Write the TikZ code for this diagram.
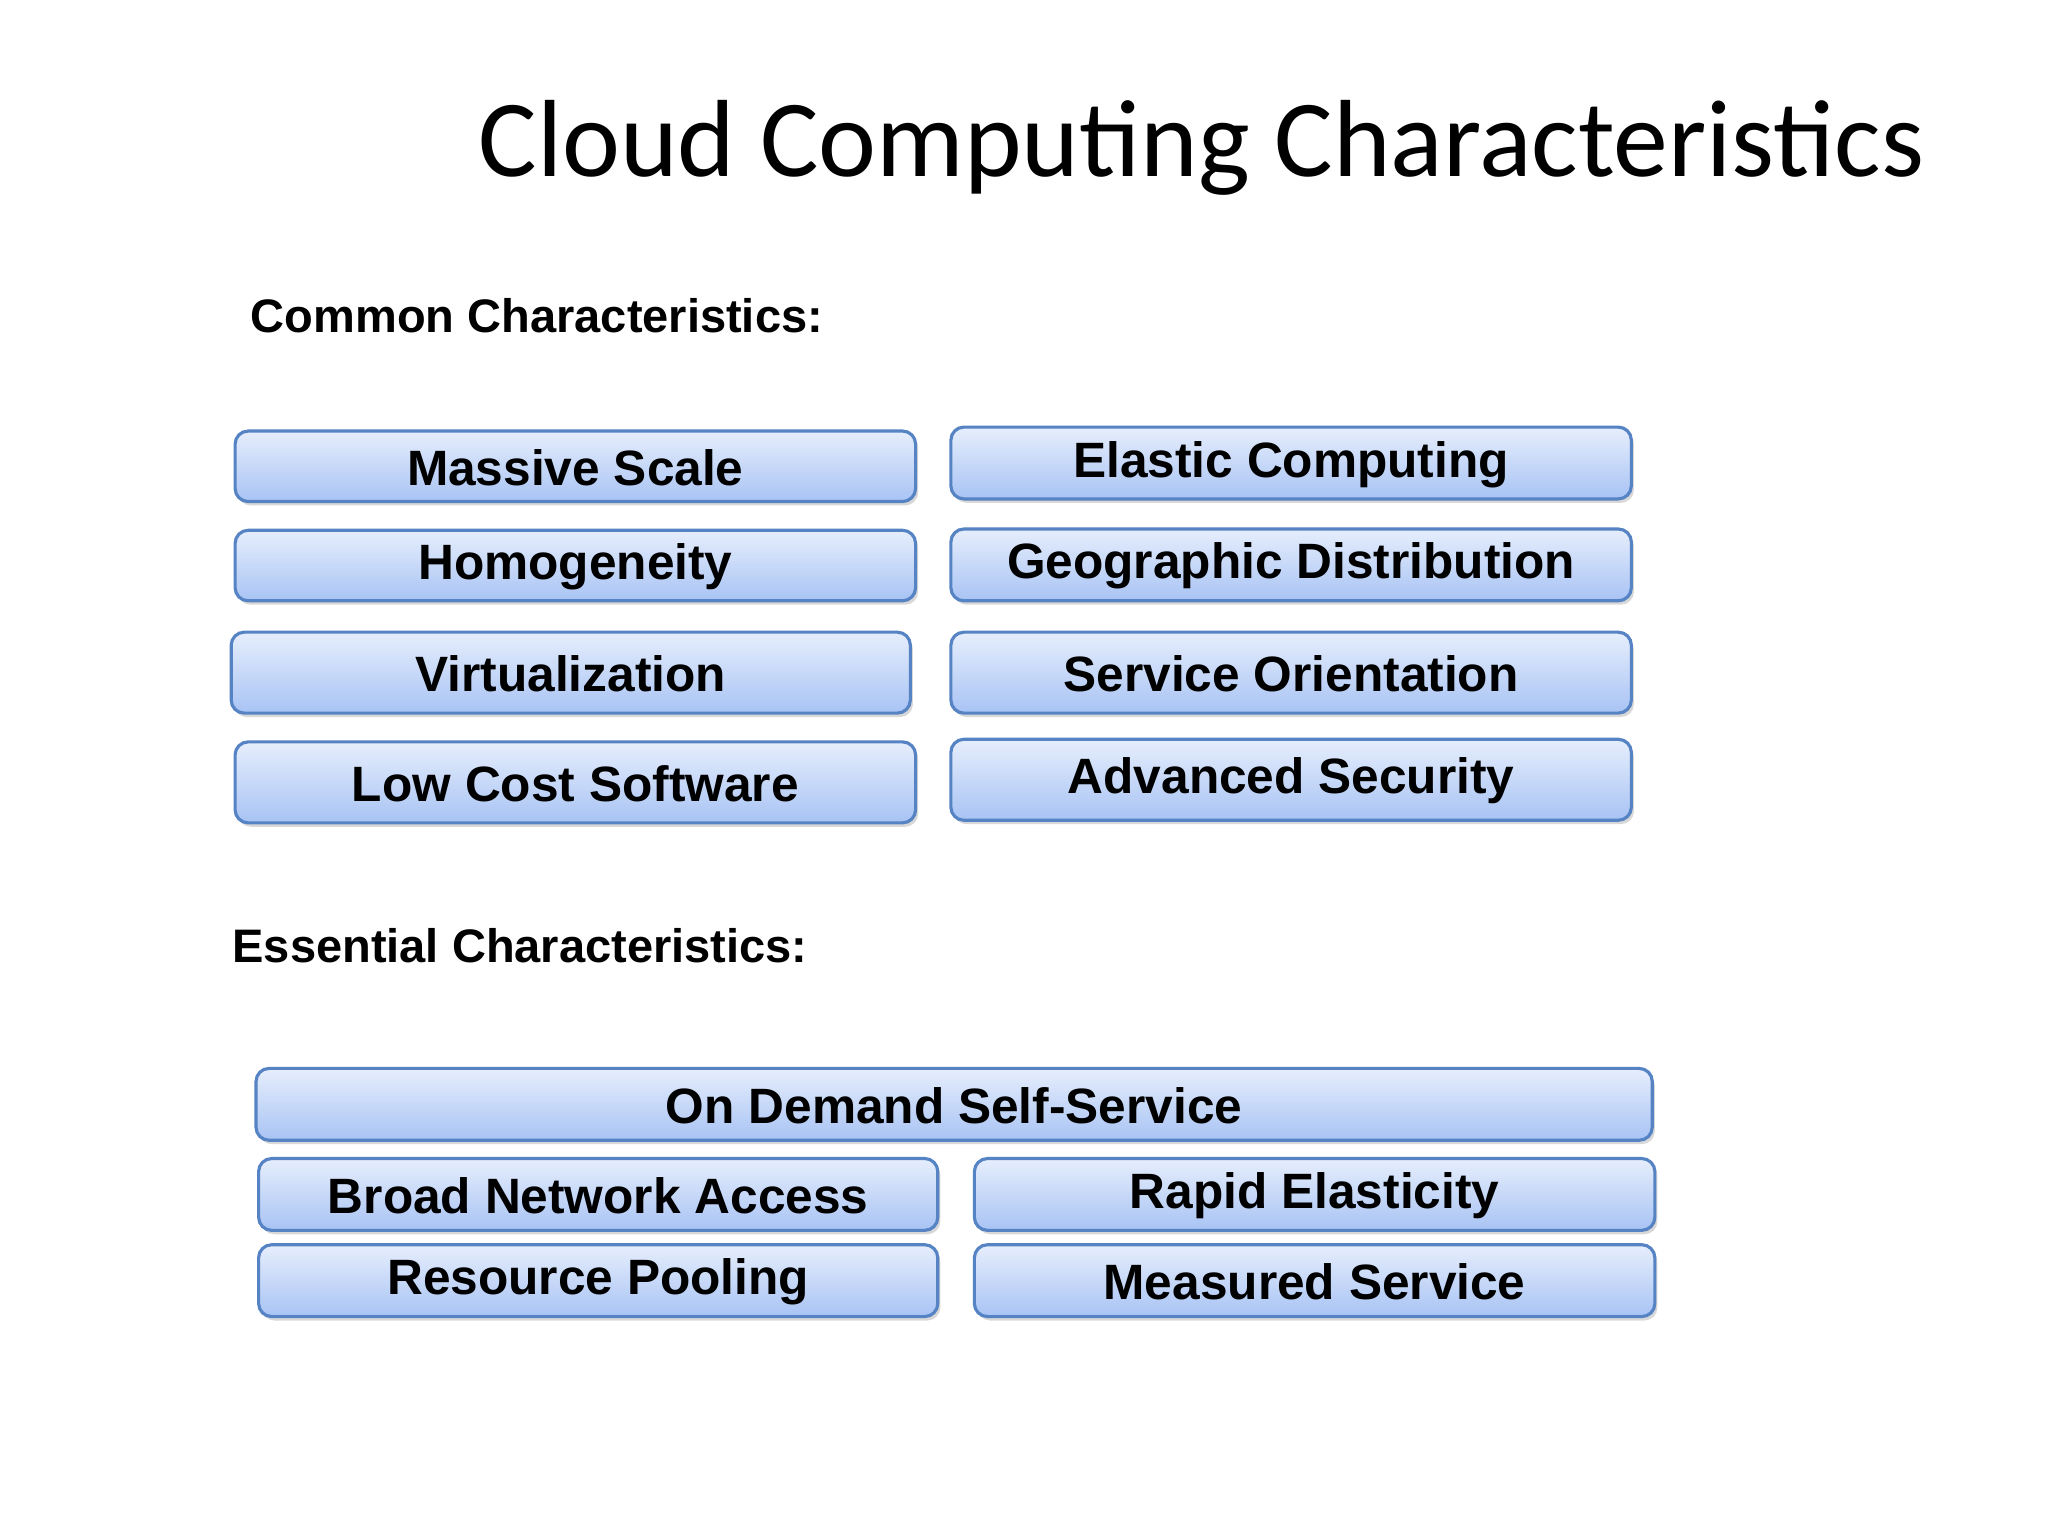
\documentclass[tikz,border=0pt]{standalone}
\usepackage{fontspec}
\setmainfont{Liberation Sans}
\newfontfamily\titlefont{Carlito}
\usetikzlibrary{shadows}
\definecolor{btop}{HTML}{E6EEFC}
\definecolor{bbot}{HTML}{A8C3F4}
\definecolor{bline}{HTML}{5583C4}
\tikzset{px/.style={x=0.5pt,y=-0.5pt},
cbox/.style={draw=bline,line width=1.2pt,rounded corners=5pt,top color=btop,bottom color=bbot,drop shadow={shadow xshift=1pt,shadow yshift=-1.5pt,opacity=0.3}},
btxt/.style={font=\fontsize{19}{22}\selectfont\bfseries}}
\newcommand{\cb}[6]{\draw[cbox] (#1,#2) rectangle (#3,#4); \node[btxt] (#5) at ({(#1+#3)/2},{(#2+#4)/2+1}) {#6};}
\begin{document}
\begin{tikzpicture}[px]
\useasboundingbox[fill=white] (0,0) rectangle (1568,1176);
\node[font=\titlefont\fontsize{42}{48}\selectfont] (title) at (920,113) {Cloud Computing Characteristics};
\node[anchor=west,font=\fontsize{18}{21}\selectfont\bfseries] (common) at (185,242) {Common Characteristics:};
\node[anchor=west,font=\fontsize{18}{21}\selectfont\bfseries] (essential) at (171,724) {Essential Characteristics:};
\cb{180}{330}{701}{384}{ms}{Massive Scale}
\cb{180}{406}{701}{460}{ho}{Homogeneity}
\cb{177}{484}{697}{546}{vi}{Virtualization}
\cb{180}{568}{701}{630}{lc}{Low Cost Software}
\cb{728}{327}{1249}{382}{ec}{Elastic Computing}
\cb{728}{405}{1249}{460}{gd}{Geographic Distribution}
\cb{728}{484}{1249}{546}{so}{Service Orientation}
\cb{728}{566}{1249}{628}{as}{Advanced Security}
\cb{196}{818}{1265}{873}{od}{On Demand Self-Service}
\cb{198}{887}{718}{942}{bn}{Broad Network Access}
\cb{746}{887}{1267}{942}{re}{Rapid Elasticity}
\cb{198}{953}{718}{1008}{rp}{Resource Pooling}
\cb{746}{953}{1267}{1008}{me}{Measured Service}
\end{tikzpicture}
\end{document}
